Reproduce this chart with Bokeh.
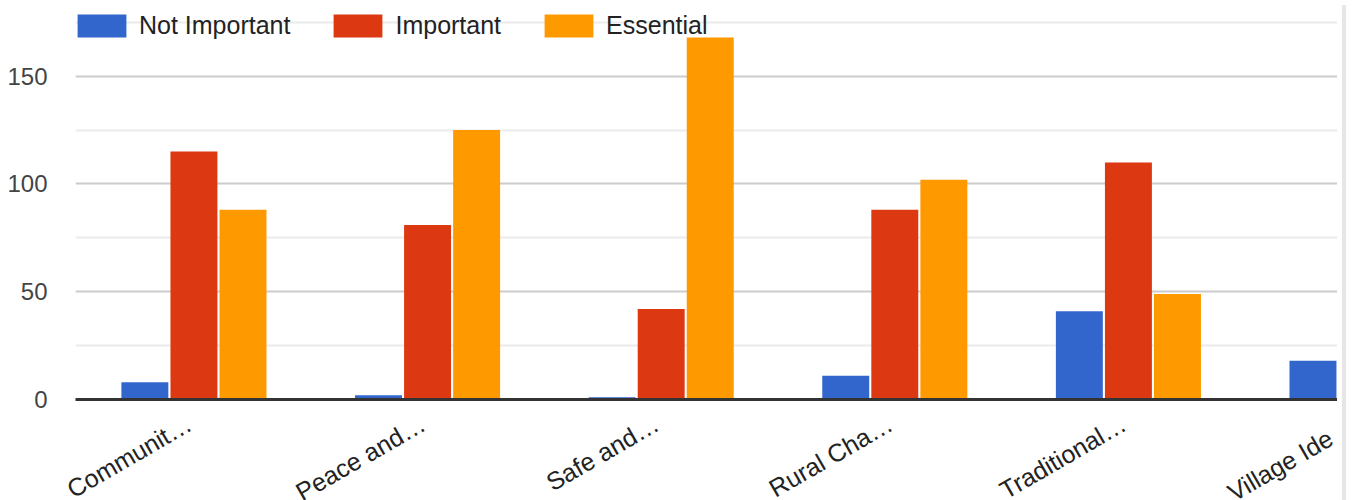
import math
from bokeh.plotting import figure
from bokeh.models import ColumnDataSource, FixedTicker, Legend, LegendItem, Div
from bokeh.layouts import row
from bokeh.embed import file_html
from bokeh.resources import INLINE

categories = ["Communit…", "Peace and…", "Safe and…", "Rural Cha…", "Traditional…", "Village Ide…"]
not_important = [8, 2, 1, 11, 41, 18]
important = [115, 81, 42, 88, 110, float("nan")]
essential = [88, 125, 168, 102, 49, float("nan")]
series_names = ["Not Important", "Important", "Essential"]
colors = ["#3366cc", "#dc3912", "#ff9900"]
y_major = [0, 50, 100, 150]
y_minor = [25, 75, 125, 175]

FONT = "Liberation Sans"
X_START, X_END = -0.507, 4.895
xs = list(range(len(categories)))

p = figure(
    output_backend="svg", toolbar_location=None,
    frame_width=1262, frame_height=391,
    min_border_left=75, min_border_right=0, min_border_top=8, min_border_bottom=101,
    x_range=(X_START, X_END), y_range=(0, 181.4),
    background_fill_color="white", border_fill_color="white",
)
p.outline_line_color = None

offsets = [-0.21, 0.0, 0.21]
renderers = []
for vals, off, col in zip([not_important, important, essential], offsets, colors):
    src = ColumnDataSource(dict(x=[x + off for x in xs], top=vals))
    r = p.vbar(x="x", top="top", width=0.201, bottom=0, source=src,
               fill_color=col, line_color=None)
    renderers.append(r)

# x axis ticks: the last category sits past the visible edge, so its label is
# anchored at the edge with the hidden ellipsis dropped (as in the cut-off original)
ticks, overrides = [], {}
for i, c in enumerate(categories):
    t = i - 0.02
    text = c
    if t > X_END:
        t = X_END - 0.005
        text = "\n" + c.rstrip("…")
    ticks.append(t)
    overrides[t] = text
p.xaxis.ticker = FixedTicker(ticks=ticks)
p.xaxis.major_label_overrides = overrides
p.xaxis.major_label_orientation = math.pi / 6
p.xaxis.major_label_text_font = FONT
p.xaxis.major_label_text_font_size = "25px"
p.xaxis.major_label_text_color = "#222222"
p.xaxis.major_label_standoff = 16
p.xaxis.major_tick_line_color = None
p.xaxis.minor_tick_line_color = None
p.xaxis.axis_line_color = "#333333"
p.xaxis.axis_line_width = 3

p.yaxis.ticker = FixedTicker(ticks=y_major, minor_ticks=y_minor)
p.yaxis.major_label_text_font = FONT
p.yaxis.major_label_text_font_size = "24px"
p.yaxis.major_label_text_color = "#444444"
p.yaxis.major_label_standoff = 22
p.yaxis.major_tick_line_color = None
p.yaxis.minor_tick_line_color = None
p.yaxis.axis_line_color = None

p.xgrid.grid_line_color = None
p.ygrid.grid_line_color = "#cccccc"
p.ygrid.grid_line_width = 2
p.ygrid.minor_grid_line_color = "#ebebeb"
p.ygrid.minor_grid_line_width = 2

legend = Legend(
    items=[LegendItem(label=n, renderers=[r]) for n, r in zip(series_names, renderers)],
    orientation="horizontal", location=(-4, 359),
    glyph_width=61, glyph_height=29, label_standoff=7, spacing=37,
    label_text_font=FONT, label_text_font_size="25px", label_text_color="#222222",
    background_fill_alpha=0, border_line_color=None, padding=0, margin=0,
)
p.add_layout(legend, "center")

strip = Div(width=4, height=500, styles={"background-color": "#e6e6e6"})
layout = row(p, strip)

open("out.html", "w").write(file_html(layout, INLINE))
